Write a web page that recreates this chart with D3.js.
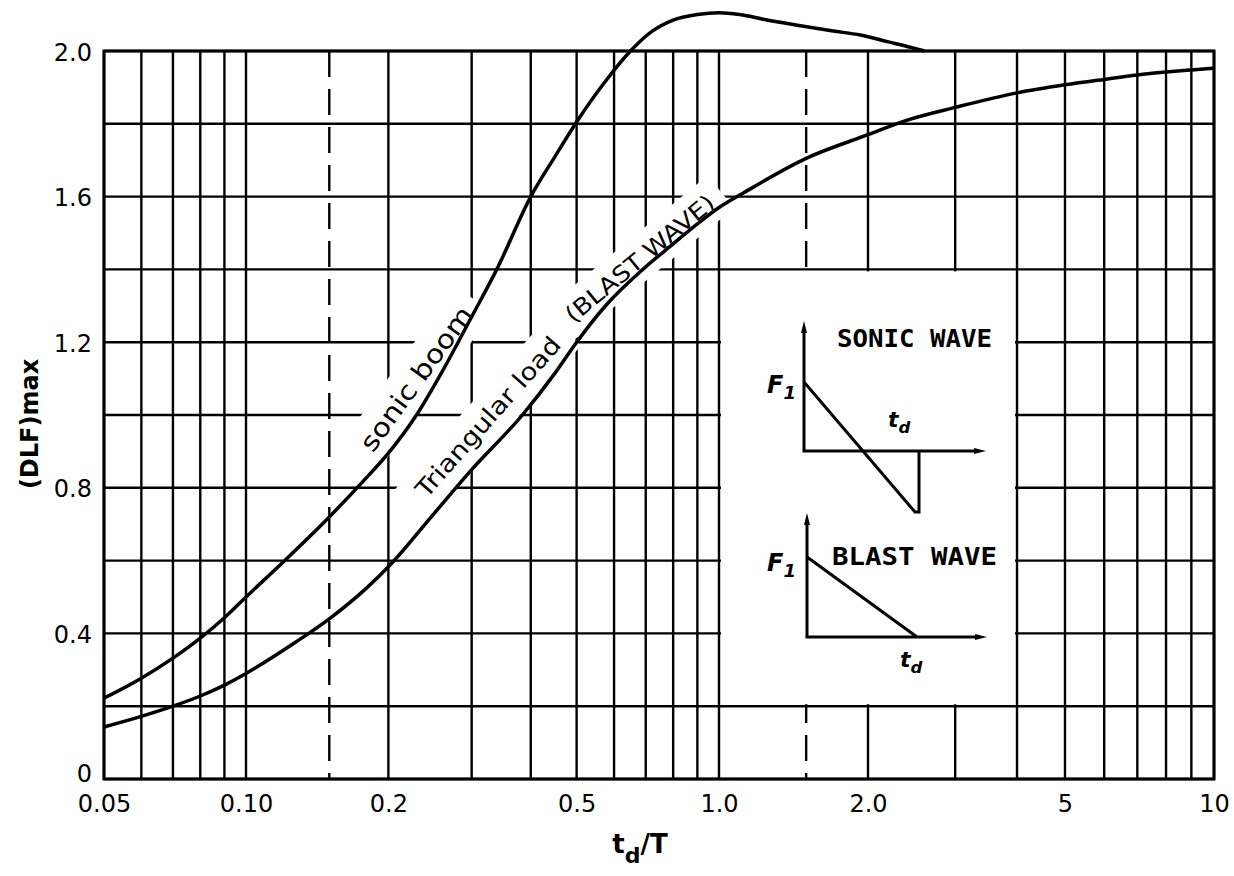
<!DOCTYPE html>
<html><head><meta charset="utf-8">
<script src="https://cdn.jsdelivr.net/npm/d3@7"></script>
<style>body{margin:0;background:#fff}svg{display:block}</style>
</head><body><svg id="c" width="1234" height="876"></svg>
<script>
// ---------- data ----------
const yTickValues = [0, 0.4, 0.8, 1.2, 1.6, 2.0];
const yTickLabels = ["0", "0.4", "0.8", "1.2", "1.6", "2.0"];
const yGridValues = [0, 0.2, 0.4, 0.6, 0.8, 1.0, 1.2, 1.4, 1.6, 1.8, 2.0];
const xTickValues = [0.05, 0.1, 0.2, 0.5, 1, 2, 5, 10];
const xTickLabels = ["0.05", "0.10", "0.2", "0.5", "1.0", "2.0", "5", "10"];
const xGridValues = [0.05, 0.06, 0.07, 0.08, 0.09, 0.1, 0.2, 0.3, 0.4, 0.5, 0.6, 0.7, 0.8, 0.9, 1,
                     2, 3, 4, 5, 6, 7, 8, 9, 10];
const xDashedValues = [0.15, 1.5];

const sonicX = [0.05, 0.06, 0.07, 0.08, 0.09, 0.1, 0.12, 0.15, 0.176, 0.2, 0.228, 0.26, 0.3, 0.339, 0.4,
                0.45, 0.5, 0.57, 0.65, 0.72, 0.8, 0.9, 1.0, 1.1, 1.25, 1.45, 1.7, 1.93, 2.2, 2.44, 2.6];
const sonicY = [0.222, 0.277, 0.332, 0.387, 0.443, 0.5, 0.597, 0.72, 0.815, 0.895, 0.995, 1.12, 1.27, 1.40, 1.60,
                1.71, 1.805, 1.91, 2.0, 2.053, 2.085, 2.10, 2.105, 2.10, 2.085, 2.07, 2.055, 2.044, 2.025, 2.01, 2.0];

const blastX = [0.05, 0.06, 0.07, 0.08, 0.09, 0.1, 0.127, 0.15, 0.18, 0.2, 0.25, 0.3, 0.384, 0.45, 0.5, 0.58,
                0.69, 0.8, 0.9, 1.0, 1.12, 1.5, 2, 2.4, 3, 4, 5, 6, 7, 8, 9, 10];
const blastY = [0.143, 0.172, 0.2, 0.228, 0.258, 0.29, 0.375, 0.44, 0.525, 0.583, 0.73, 0.85, 1.0, 1.115, 1.2, 1.305,
                1.4, 1.47, 1.525, 1.57, 1.61, 1.705, 1.77, 1.81, 1.845, 1.885, 1.907, 1.922, 1.934, 1.942, 1.948, 1.953];

// curve labels: [text, x, y, angle, font size, text length]
const curveLabels = [
  ["sonic boom", 0.229, 1.10, -54, 26, 172],
  ["Triangular load", 0.325, 0.995, -48.5, 24, 205],
  ["(BLAST WAVE)", 0.68, 1.43, -39.5, 23, 186]
];

// ---------- scales ----------
const svg = d3.select("#c");
const x = d3.scaleLog().domain([0.05, 0.1, 1, 10]).range([104, 246, 719, 1214]);
const y = d3.scaleLinear().domain([0, 2]).range([779, 51]);
const FONT = "'DejaVu Sans', sans-serif";

// ---------- grid ----------
const grid = svg.append("g").attr("stroke", "#000").attr("stroke-width", 2.4).attr("fill", "none");
grid.selectAll("line.v").data(xGridValues).join("line")
  .attr("x1", d => x(d)).attr("x2", d => x(d)).attr("y1", y(0)).attr("y2", y(2));
grid.selectAll("line.h").data(yGridValues).join("line")
  .attr("x1", x(0.05)).attr("x2", x(10)).attr("y1", d => y(d)).attr("y2", d => y(d));
grid.selectAll("line.d").data(xDashedValues).join("line")
  .attr("x1", d => x(d)).attr("x2", d => x(d)).attr("y1", y(2)).attr("y2", y(0))
  .attr("stroke-dasharray", "26,12");

// inset white area
svg.append("rect")
  .attr("x", x(1) + 2).attr("y", y(1.4) + 2)
  .attr("width", x(4) - x(1) - 4).attr("height", y(0.2) - y(1.4) - 4)
  .attr("fill", "#fff");

const maskLayer = svg.append("g");
const curveLayer = svg.append("g");
const textLayer = svg.append("g");

// frame
svg.append("rect").attr("x", x(0.05)).attr("y", y(2)).attr("width", x(10) - x(0.05)).attr("height", y(0) - y(2))
  .attr("fill", "none").attr("stroke", "#000").attr("stroke-width", 3);

// ---------- curves ----------
const line = d3.line().x(d => x(d[0])).y(d => y(d[1])).curve(d3.curveMonotoneX);
curveLayer.append("path").datum(sonicX.map((v, i) => [v, sonicY[i]]))
  .attr("d", line).attr("fill", "none").attr("stroke", "#000").attr("stroke-width", 3.5);
curveLayer.append("path").datum(blastX.map((v, i) => [v, blastY[i]]))
  .attr("d", line).attr("fill", "none").attr("stroke", "#000").attr("stroke-width", 3.5);

// ---------- curve labels with white masks ----------
curveLabels.forEach(([t, lx, ly, ang, fs, len]) => {
  const tr = `translate(${x(lx)},${y(ly)}) rotate(${ang})`;
  const g = textLayer.append("g").attr("transform", tr);
  const txt = g.append("text").text(t)
    .attr("text-anchor", "middle").attr("dy", "0.35em")
    .attr("font-family", FONT).attr("font-size", fs).attr("fill", "#000")
    .attr("textLength", len).attr("lengthAdjust", "spacingAndGlyphs");
  const bb = txt.node().getBBox();
  maskLayer.append("rect").attr("transform", tr)
    .attr("x", bb.x - 12).attr("y", bb.y - 8).attr("width", bb.width + 24).attr("height", bb.height + 16)
    .attr("fill", "#fff");
});

// ---------- axes ----------
const xAxis = d3.axisBottom(x).tickValues(xTickValues).tickFormat((d, i) => xTickLabels[i])
  .tickSize(0).tickPadding(16);
const gx = svg.append("g").attr("transform", `translate(0,${y(0)})`).call(xAxis);
gx.select(".domain").remove();
gx.selectAll("text").attr("font-family", FONT).attr("font-size", 24).attr("fill", "#000");

const yAxis = d3.axisLeft(y).tickValues(yTickValues).tickFormat((d, i) => yTickLabels[i])
  .tickSize(0).tickPadding(12);
const gy = svg.append("g").attr("transform", `translate(${x(0.05)},0)`).call(yAxis);
gy.select(".domain").remove();
gy.selectAll("text").attr("font-family", FONT).attr("font-size", 24).attr("fill", "#000")
  .attr("dy", d => d === 0 ? "0.1em" : "0.38em");

// axis titles
const xt = svg.append("text").attr("x", 640).attr("y", 853).attr("text-anchor", "middle")
  .attr("font-family", FONT).attr("font-size", 26).attr("font-weight", "bold");
xt.append("tspan").text("t");
xt.append("tspan").text("d").attr("dy", 10).attr("font-size", 22);
xt.append("tspan").text("/T").attr("dy", -10);

svg.append("text").attr("transform", "translate(38,424) rotate(-90)").attr("text-anchor", "middle")
  .attr("font-family", FONT).attr("font-size", 24).attr("font-weight", "bold").text("(DLF)max");

// ---------- inset diagrams ----------
const MONO = "'DejaVu Sans Mono', monospace";
function arrowHead(g, px, py, dir) {
  const s = 6, l = 12;
  let pts;
  if (dir === "up") pts = [[px, py], [px - s / 2, py + l], [px + s / 2, py + l]];
  else pts = [[px, py], [px - l, py - s / 2], [px - l, py + s / 2]];
  g.append("path").attr("class", "ah").attr("d", d3.line()(pts) + "Z").attr("fill", "#000").attr("stroke", "none");
}
function subText(g, tx, ty, main, sub, fs) {
  const t = g.append("text").attr("x", tx).attr("y", ty).attr("font-family", FONT)
    .attr("font-size", fs).attr("font-style", "italic").attr("font-weight", "bold");
  t.append("tspan").text(main);
  t.append("tspan").text(sub).attr("dy", 6).attr("font-size", fs * 0.75);
}
// sonic wave
const sw = svg.append("g").attr("transform", "translate(804,451)")
  .attr("stroke", "#000").attr("stroke-width", 3).attr("fill", "none");
sw.append("path").attr("d", d3.line()([[0, -120], [0, 0], [172, 0]]));
sw.append("path").attr("d", d3.line()([[0, -69], [111, 61], [115, 61], [115, 0]]));
arrowHead(sw, 0, -130, "up"); arrowHead(sw, 182, 0, "right");
const swt = svg.append("g").attr("transform", "translate(804,451)");
subText(swt, -37, -58, "F", "1", 24);
subText(swt, 84, -24, "t", "d", 22);
swt.append("text").attr("x", 33).attr("y", -104).attr("font-family", MONO).attr("font-weight", "bold")
  .attr("font-size", 25).attr("textLength", 155).attr("lengthAdjust", "spacingAndGlyphs").text("SONIC WAVE");
// blast wave
const bw = svg.append("g").attr("transform", "translate(807,637)")
  .attr("stroke", "#000").attr("stroke-width", 3).attr("fill", "none");
bw.append("path").attr("d", d3.line()([[0, -114], [0, 0], [170, 0]]));
bw.append("path").attr("d", d3.line()([[0, -80], [110, 0]]));
arrowHead(bw, 0, -124, "up"); arrowHead(bw, 180, 0, "right");
const bwt = svg.append("g").attr("transform", "translate(807,637)");
subText(bwt, -40, -66, "F", "1", 24);
subText(bwt, 93, 30, "t", "d", 22);
bwt.append("text").attr("x", 25).attr("y", -72).attr("font-family", MONO).attr("font-weight", "bold")
  .attr("font-size", 25).attr("textLength", 165).attr("lengthAdjust", "spacingAndGlyphs").text("BLAST WAVE");
</script>
</body></html>
